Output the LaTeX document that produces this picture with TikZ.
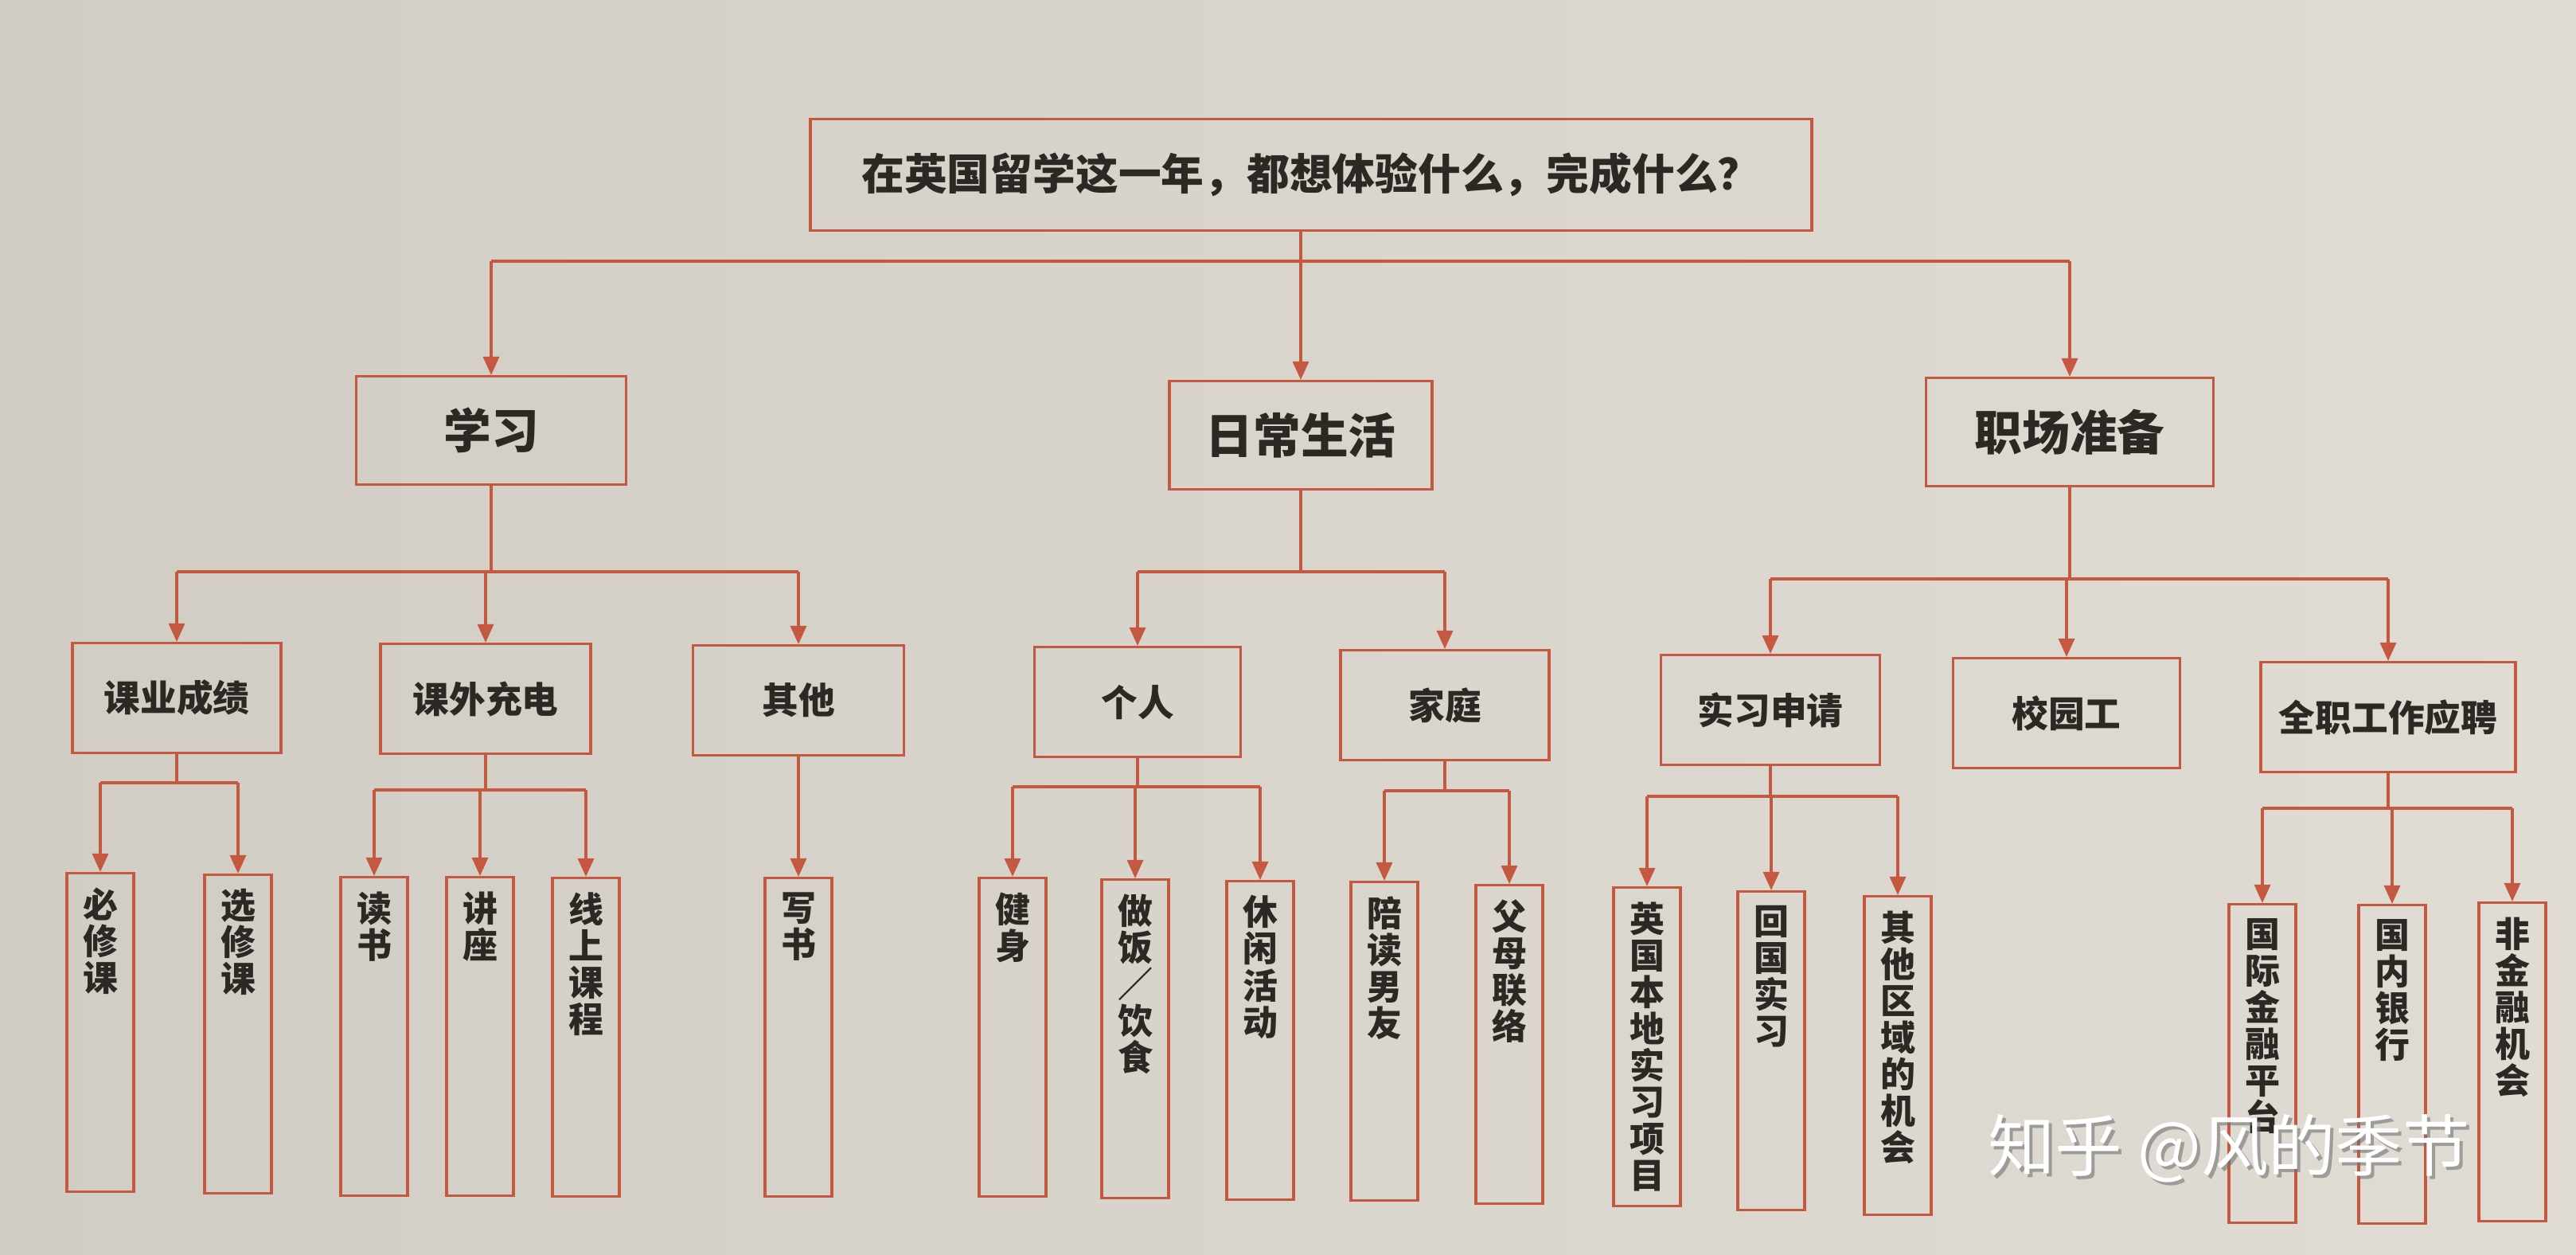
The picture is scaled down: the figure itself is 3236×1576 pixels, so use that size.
\documentclass[tikz,border=0pt]{standalone}
\usepackage{fontspec}
\setmainfont{Noto Sans CJK SC}
\usepackage{tikz}
\usetikzlibrary{arrows.meta,positioning}
\definecolor{linered}{RGB}{196,88,64}
\definecolor{inkgray}{RGB}{44,40,36}
\definecolor{paperleft}{RGB}{210,205,196}
\definecolor{paperright}{RGB}{224,220,212}
\tikzset{
	>={Triangle[length=2.3mm,width=2mm]},
	box/.style={draw=linered, line width=0.9pt, text=inkgray, inner sep=0pt, anchor=north},
	rootbox/.style={box, minimum width=125.8mm, minimum height=14mm, font=\bfseries\fontsize{15.3pt}{18pt}\selectfont},
	topic/.style={box, minimum height=13.6mm, font=\bfseries\fontsize{17pt}{20pt}\selectfont},
	subtopic/.style={box, minimum height=13.8mm, font=\bfseries\fontsize{13pt}{16pt}\selectfont},
	leaf/.style={box, minimum width=8.4mm, inner ysep=1.8mm, font=\bfseries\fontsize{12.5pt}{13.1pt}\selectfont},
	link/.style={draw=linered, line width=0.9pt},
	arrow/.style={link, ->},
}
\newcommand{\vcol}[1]{\parbox[t][36.4mm][t]{7mm}{\centering #1}}

\begin{document}
\begin{tikzpicture}[x=0.1mm, y=-0.1mm]
	\useasboundingbox (0,0) rectangle (3236,1576);
	\shade[left color=paperleft, right color=paperright] (0,0) rectangle (3236,1576);

	\node[rootbox] (root) at (1647,148) {在英国留学这一年，都想体验什么，完成什么？};

	\node[topic, minimum width=33.9mm] (xuexi) at (617,471) {学习};
	\node[topic, minimum width=33mm] (richang) at (1634,477) {日常生活};
	\node[topic, minimum width=36.1mm] (zhichang) at (2600,473) {职场准备};

	\node[subtopic, minimum width=26.2mm] (kyc) at (222,806) {课业成绩};
	\node[subtopic, minimum width=26.4mm] (kwcd) at (610,807) {课外充电};
	\node[subtopic, minimum width=26.5mm] (qita) at (1003,809) {其他};
	\node[subtopic, minimum width=25.9mm] (geren) at (1429,811) {个人};
	\node[subtopic, minimum width=26.2mm] (jiating) at (1815,815) {家庭};
	\node[subtopic, minimum width=27.5mm] (sxsq) at (2224,821) {实习申请};
	\node[subtopic, minimum width=28.5mm] (xyg) at (2596,825) {校园工};
	\node[subtopic, minimum width=32mm] (qzyp) at (3000,830) {全职工作应聘};

	\node[leaf] (bixiu) at (126,1095) {\vcol{必\\修\\课}};
	\node[leaf] (xuanxiu) at (299,1097) {\vcol{选\\修\\课}};
	\node[leaf] (dushu) at (470,1100) {\vcol{读\\书}};
	\node[leaf] (jiangzuo) at (603,1100) {\vcol{讲\\座}};
	\node[leaf] (xianshang) at (736,1101) {\vcol{线\\上\\课\\程}};
	\node[leaf] (xieshu) at (1003,1101) {\vcol{写\\书}};
	\node[leaf] (jianshen) at (1272,1101) {\vcol{健\\身}};
	\node[leaf] (zuofan) at (1426,1103) {\vcol{做\\饭\\／\\饮\\食}};
	\node[leaf] (xiuxian) at (1583,1105) {\vcol{休\\闲\\活\\动}};
	\node[leaf] (peidu) at (1739,1106) {\vcol{陪\\读\\男\\友}};
	\node[leaf] (fumu) at (1896,1110) {\vcol{父\\母\\联\\络}};
	\node[leaf] (yingguo) at (2069,1113) {\vcol{英\\国\\本\\地\\实\\习\\项\\目}};
	\node[leaf] (huiguo) at (2225,1118) {\vcol{回\\国\\实\\习}};
	\node[leaf] (qitaquyu) at (2384,1124) {\vcol{其\\他\\区\\域\\的\\机\\会}};
	\node[leaf] (guoji) at (2842,1134) {\vcol{国\\际\\金\\融\\平\\台}};
	\node[leaf] (guonei) at (3005,1135) {\vcol{国\\内\\银\\行}};
	\node[leaf] (feijinrong) at (3156,1132) {\vcol{非\\金\\融\\机\\会}};

	\coordinate (b0) at (0,328);
	\coordinate (b1) at (0,718);
	\coordinate (b2) at (0,727);
	\coordinate (bkyc) at (0,983);
	\coordinate (bkwcd) at (0,992);
	\coordinate (bgeren) at (0,988);
	\coordinate (bjiating) at (0,993);
	\coordinate (bsxsq) at (0,1000);
	\coordinate (bqzyp) at (0,1015);

	\draw[link] (root.south -| richang.north) -- (richang.north |- b0);
	\draw[link] (xuexi.north |- b0) -- (zhichang.north |- b0);
	\foreach \c in {xuexi,richang,zhichang}
		\draw[arrow] (\c.north |- b0) -- (\c.north);

	\draw[link] (xuexi.south) -- (xuexi.south |- b1);
	\draw[link] (kyc.north |- b1) -- (qita.north |- b1);
	\foreach \c in {kyc,kwcd,qita}
		\draw[arrow] (\c.north |- b1) -- (\c.north);

	\draw[link] (richang.south) -- (richang.south |- b1);
	\draw[link] (geren.north |- b1) -- (jiating.north |- b1);
	\foreach \c in {geren,jiating}
		\draw[arrow] (\c.north |- b1) -- (\c.north);

	\draw[link] (zhichang.south) -- (zhichang.south |- b2);
	\draw[link] (sxsq.north |- b2) -- (qzyp.north |- b2);
	\foreach \c in {sxsq,xyg,qzyp}
		\draw[arrow] (\c.north |- b2) -- (\c.north);

	\draw[link] (kyc.south) -- (kyc.south |- bkyc);
	\draw[link] (bixiu.north |- bkyc) -- (xuanxiu.north |- bkyc);
	\foreach \c in {bixiu,xuanxiu}
		\draw[arrow] (\c.north |- bkyc) -- (\c.north);

	\draw[link] (kwcd.south) -- (kwcd.south |- bkwcd);
	\draw[link] (dushu.north |- bkwcd) -- (xianshang.north |- bkwcd);
	\foreach \c in {dushu,jiangzuo,xianshang}
		\draw[arrow] (\c.north |- bkwcd) -- (\c.north);

	\draw[arrow] (qita.south) -- (xieshu.north);

	\draw[link] (geren.south) -- (geren.south |- bgeren);
	\draw[link] (jianshen.north |- bgeren) -- (xiuxian.north |- bgeren);
	\foreach \c in {jianshen,zuofan,xiuxian}
		\draw[arrow] (\c.north |- bgeren) -- (\c.north);

	\draw[link] (jiating.south) -- (jiating.south |- bjiating);
	\draw[link] (peidu.north |- bjiating) -- (fumu.north |- bjiating);
	\foreach \c in {peidu,fumu}
		\draw[arrow] (\c.north |- bjiating) -- (\c.north);

	\draw[link] (sxsq.south) -- (sxsq.south |- bsxsq);
	\draw[link] (yingguo.north |- bsxsq) -- (qitaquyu.north |- bsxsq);
	\foreach \c in {yingguo,huiguo,qitaquyu}
		\draw[arrow] (\c.north |- bsxsq) -- (\c.north);

	\draw[link] (qzyp.south) -- (qzyp.south |- bqzyp);
	\draw[link] (guoji.north |- bqzyp) -- (feijinrong.north |- bqzyp);
	\foreach \c in {guoji,guonei,feijinrong}
		\draw[arrow] (\c.north |- bqzyp) -- (\c.north);

	\node[text=black!55, opacity=0.6, font=\fontsize{24pt}{28pt}\selectfont] (markshadow) at (2804,1446) {知乎 @风的季节};
	\node[text=white, font=\fontsize{24pt}{28pt}\selectfont] (mark) at (2800,1442) {知乎 @风的季节};
\end{tikzpicture}
\end{document}
